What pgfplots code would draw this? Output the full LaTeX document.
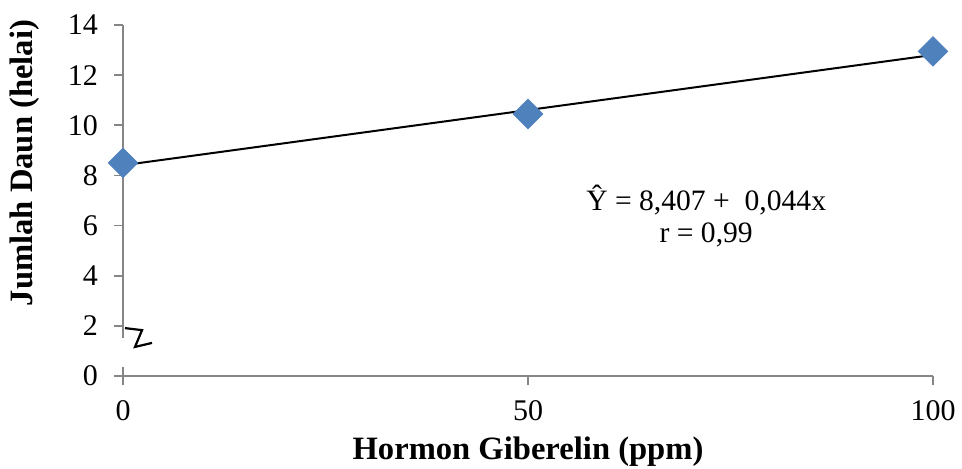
\documentclass[border=0pt]{standalone}
\usepackage{pgfplots}
\pgfplotsset{compat=1.18}
\usepackage{fontspec}
\setmainfont{Liberation Serif}
\definecolor{axgray}{HTML}{868686}
\definecolor{mblue}{HTML}{4F81BD}

\begin{document}
\begin{tikzpicture}
\useasboundingbox (0,0) rectangle (481pt,234pt);
\begin{axis}[
  at={(61.5pt,46pt)}, anchor=south west,
  width=405pt, height=175.5pt, scale only axis,
  xmin=0, xmax=100, ymin=0, ymax=14,
  axis x line*=bottom, axis y line*=left,
  axis line style={axgray, line width=0.8pt},
  y axis line style={draw=none},
  xtick={0,50,100}, ytick={0,2,...,14},
  tick align=outside, tick style={axgray, line width=0.8pt},
  major tick length=4.5pt,
  ticklabel style={font=\fontsize{15}{17}\selectfont},
  xticklabel style={yshift=-4pt},
  yticklabel style={xshift=-4.5pt},
  /pgf/number format/assume math mode=true,
  xlabel={Hormon Giberelin (ppm)},
  ylabel={Jumlah Daun (helai)},
  label style={font=\fontsize{16.3}{19}\selectfont\bfseries},
  xlabel style={at={(axis description cs:0.5,-0.215)}, anchor=center},
  ylabel style={at={(axis description cs:-0.122,0.607)}, anchor=center},
  clip=false,
]
% data points
\addplot[only marks, mark=square*, mark size=5.2pt,
  mark options={rotate=45, fill=mblue, draw=mblue}]
  coordinates {(0,8.5) (50,10.45) (100,12.95)};
% regression line
\addplot[black, line width=1pt] coordinates {(0,8.407) (100,12.807)};

% broken y axis
\draw[axgray, line width=0.8pt] (axis cs:0,0) -- (axis cs:0,0.36);
\draw[axgray, line width=0.8pt] (axis cs:0,1.52) -- (axis cs:0,14);
\draw[black, line width=1.1pt] (axis cs:0.25,1.91) -- (axis cs:2.35,1.83)
  -- (axis cs:1.48,1.16) -- (axis cs:3.58,1.32);

\node[font=\fontsize{14.8}{16}\selectfont, align=center] at (axis cs:72,6.37)
  {Ŷ = 8,407 +\ \ 0,044x\\ r = 0,99};
\end{axis}
\end{tikzpicture}
\end{document}
